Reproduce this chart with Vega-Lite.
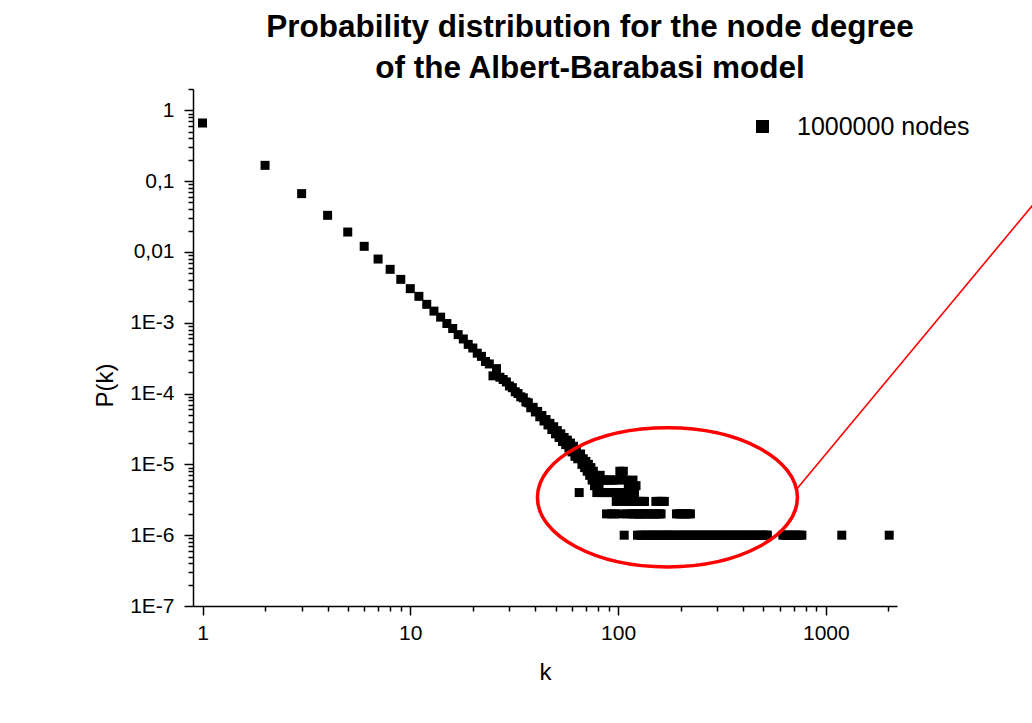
{
  "$schema": "https://vega.github.io/schema/vega-lite/v6.json",
  "autosize": "none",
  "padding": {"left": 193, "top": 89, "right": 135, "bottom": 117},
  "width": 704,
  "height": 517,
  "background": "white",
  "config": {
    "font": "Liberation Sans",
    "view": {"stroke": null},
    "axis": {
      "grid": false,
      "domainColor": "#000",
      "domainWidth": 1.5,
      "tickColor": "#000",
      "tickWidth": 1.5,
      "labelColor": "#000",
      "labelFont": "Liberation Sans",
      "labelFontSize": 21,
      "titleColor": "#000",
      "titleFont": "Liberation Sans",
      "titleFontSize": 24,
      "titleFontWeight": "normal",
      "labelOverlap": false,
      "labelFlush": false,
      "labelBound": false
    }
  },
  "title": {
    "text": ["Probability distribution for the node degree", "of the Albert-Barabasi model"],
    "font": "Liberation Sans",
    "fontSize": 31.5,
    "fontWeight": "bold",
    "color": "#000",
    "anchor": "middle",
    "dx": 45,
    "lineHeight": 41,
    "offset": -6
  },
  "layer": [
    {
      "data": {"values": [
        {"k": 1, "P": 0.662}, {"k": 2, "P": 0.167}, {"k": 3, "P": 0.0666}, {"k": 4, "P": 0.0329},
        {"k": 5, "P": 0.0191}, {"k": 6, "P": 0.0120}, {"k": 7, "P": 0.00794}, {"k": 8, "P": 0.00568},
        {"k": 9, "P": 0.00410}, {"k": 10, "P": 0.00303}, {"k": 11, "P": 0.00236}, {"k": 12, "P": 0.00182},
        {"k": 13, "P": 0.00146}, {"k": 14, "P": 0.00120}, {"k": 15, "P": 0.000975}, {"k": 16, "P": 0.000830},
        {"k": 17, "P": 0.000680}, {"k": 18, "P": 0.000590}, {"k": 19, "P": 0.000495}, {"k": 20, "P": 0.000440},
        {"k": 21, "P": 0.000372}, {"k": 22, "P": 0.000335}, {"k": 23, "P": 0.000284}, {"k": 24, "P": 0.000262},
        {"k": 25, "P": 0.000178}, {"k": 26, "P": 0.000225}, {"k": 27, "P": 0.000170}, {"k": 28, "P": 0.000158},
        {"k": 29, "P": 0.000146}, {"k": 30, "P": 0.000128}, {"k": 31, "P": 0.000121}, {"k": 32, "P": 0.000106},
        {"k": 33, "P": 0.000100}, {"k": 34, "P": 0.000090}, {"k": 35, "P": 0.000087}, {"k": 36, "P": 0.000076},
        {"k": 37, "P": 0.000074}, {"k": 38, "P": 0.000063}, {"k": 39, "P": 0.000064}, {"k": 40, "P": 0.000055},
        {"k": 41, "P": 0.000056}, {"k": 42, "P": 0.000047}, {"k": 43, "P": 0.000049}, {"k": 44, "P": 0.000041},
        {"k": 45, "P": 0.000043}, {"k": 46, "P": 0.000036}, {"k": 47, "P": 0.000038}, {"k": 48, "P": 0.000031},
        {"k": 49, "P": 0.000034}, {"k": 50, "P": 0.000027}, {"k": 51, "P": 0.000030}, {"k": 52, "P": 0.000024},
        {"k": 53, "P": 0.000027}, {"k": 54, "P": 0.000021}, {"k": 55, "P": 0.000024}, {"k": 56, "P": 0.000019},
        {"k": 57, "P": 0.000022}, {"k": 58, "P": 0.000017}, {"k": 59, "P": 0.000020}, {"k": 60, "P": 0.000015},
        {"k": 61, "P": 18e-6}, {"k": 62, "P": 13e-6}, {"k": 63, "P": 16e-6}, {"k": 64, "P": 12e-6},
        {"k": 65, "P": 4e-6}, {"k": 66, "P": 14e-6}, {"k": 67, "P": 10e-6}, {"k": 68, "P": 12e-6},
        {"k": 69, "P": 9e-6}, {"k": 70, "P": 11e-6}, {"k": 71, "P": 8e-6}, {"k": 72, "P": 10e-6},
        {"k": 73, "P": 7e-6}, {"k": 74, "P": 9e-6}, {"k": 75, "P": 6e-6}, {"k": 76, "P": 8e-6},
        {"k": 77, "P": 5e-6}, {"k": 78, "P": 7e-6}, {"k": 79, "P": 4e-6}, {"k": 80, "P": 6e-6},
        {"k": 81, "P": 5e-6}, {"k": 82, "P": 7e-6}, {"k": 83, "P": 4e-6}, {"k": 84, "P": 6e-6},
        {"k": 85, "P": 6e-6}, {"k": 86, "P": 4e-6}, {"k": 87, "P": 6e-6}, {"k": 88, "P": 2e-6},
        {"k": 89, "P": 4e-6}, {"k": 90, "P": 6e-6}, {"k": 91, "P": 4e-6}, {"k": 92, "P": 6e-6},
        {"k": 93, "P": 2e-6}, {"k": 94, "P": 4e-6}, {"k": 95, "P": 6e-6}, {"k": 96, "P": 2e-6},
        {"k": 97, "P": 4e-6}, {"k": 98, "P": 3e-6}, {"k": 99, "P": 6e-6}, {"k": 100, "P": 4e-6},
        {"k": 101, "P": 3e-6}, {"k": 102, "P": 8e-6}, {"k": 103, "P": 2e-6}, {"k": 104, "P": 7e-6},
        {"k": 105, "P": 4e-6}, {"k": 106, "P": 8e-6}, {"k": 107, "P": 1e-6}, {"k": 108, "P": 6e-6},
        {"k": 109, "P": 3e-6}, {"k": 110, "P": 4e-6}, {"k": 111, "P": 2e-6}, {"k": 112, "P": 5e-6},
        {"k": 113, "P": 3e-6}, {"k": 114, "P": 4e-6}, {"k": 115, "P": 2e-6}, {"k": 116, "P": 5e-6},
        {"k": 117, "P": 3e-6}, {"k": 118, "P": 6e-6}, {"k": 119, "P": 2e-6}, {"k": 120, "P": 4e-6},
        {"k": 121, "P": 3e-6}, {"k": 122, "P": 5e-6}, {"k": 123, "P": 2e-6}, {"k": 124, "P": 1e-6},
        {"k": 125, "P": 2e-6}, {"k": 126, "P": 3e-6}, {"k": 127, "P": 2e-6}, {"k": 128, "P": 1e-6},
        {"k": 129, "P": 3e-6}, {"k": 130, "P": 2e-6}, {"k": 131, "P": 1e-6}, {"k": 132, "P": 3e-6},
        {"k": 133, "P": 2e-6}, {"k": 134, "P": 3e-6}, {"k": 136, "P": 1e-6}, {"k": 137, "P": 2e-6},
        {"k": 139, "P": 1e-6}, {"k": 140, "P": 2e-6}, {"k": 142, "P": 1e-6}, {"k": 144, "P": 2e-6},
        {"k": 146, "P": 1e-6}, {"k": 147, "P": 2e-6}, {"k": 149, "P": 1e-6}, {"k": 150, "P": 2e-6},
        {"k": 152, "P": 3e-6}, {"k": 153, "P": 1e-6}, {"k": 154, "P": 2e-6}, {"k": 156, "P": 3e-6},
        {"k": 157, "P": 1e-6}, {"k": 158, "P": 2e-6}, {"k": 160, "P": 3e-6}, {"k": 161, "P": 2e-6},
        {"k": 163, "P": 1e-6}, {"k": 164, "P": 3e-6}, {"k": 166, "P": 1e-6}, {"k": 167, "P": 3e-6},
        {"k": 170, "P": 1e-6}, {"k": 174, "P": 1e-6}, {"k": 178, "P": 1e-6}, {"k": 182, "P": 1e-6},
        {"k": 187, "P": 1e-6}, {"k": 191, "P": 2e-6}, {"k": 193, "P": 1e-6}, {"k": 196, "P": 2e-6},
        {"k": 198, "P": 1e-6}, {"k": 201, "P": 2e-6}, {"k": 204, "P": 1e-6}, {"k": 206, "P": 2e-6},
        {"k": 209, "P": 1e-6}, {"k": 212, "P": 2e-6}, {"k": 215, "P": 1e-6}, {"k": 217, "P": 2e-6},
        {"k": 220, "P": 1e-6}, {"k": 223, "P": 2e-6}, {"k": 226, "P": 1e-6}, {"k": 232, "P": 1e-6},
        {"k": 238, "P": 1e-6}, {"k": 245, "P": 1e-6}, {"k": 251, "P": 1e-6}, {"k": 258, "P": 1e-6},
        {"k": 265, "P": 1e-6}, {"k": 272, "P": 1e-6}, {"k": 279, "P": 1e-6}, {"k": 287, "P": 1e-6},
        {"k": 295, "P": 1e-6}, {"k": 303, "P": 1e-6}, {"k": 311, "P": 1e-6}, {"k": 319, "P": 1e-6},
        {"k": 328, "P": 1e-6}, {"k": 337, "P": 1e-6}, {"k": 346, "P": 1e-6}, {"k": 355, "P": 1e-6},
        {"k": 365, "P": 1e-6}, {"k": 375, "P": 1e-6}, {"k": 385, "P": 1e-6}, {"k": 395, "P": 1e-6},
        {"k": 406, "P": 1e-6}, {"k": 417, "P": 1e-6}, {"k": 428, "P": 1e-6}, {"k": 440, "P": 1e-6},
        {"k": 452, "P": 1e-6}, {"k": 464, "P": 1e-6}, {"k": 476, "P": 1e-6}, {"k": 489, "P": 1e-6},
        {"k": 502, "P": 1e-6}, {"k": 515, "P": 1e-6}, {"k": 523, "P": 1e-6}, {"k": 621, "P": 1e-6},
        {"k": 637, "P": 1e-6}, {"k": 654, "P": 1e-6}, {"k": 672, "P": 1e-6}, {"k": 690, "P": 1e-6},
        {"k": 709, "P": 1e-6}, {"k": 728, "P": 1e-6}, {"k": 748, "P": 1e-6}, {"k": 767, "P": 1e-6},
        {"k": 1193, "P": 1e-6}, {"k": 2018, "P": 1e-6}
      ]},
      "mark": {"type": "point", "shape": "square", "filled": true, "size": 81, "opacity": 1},
      "encoding": {
        "x": {
          "field": "k", "type": "quantitative",
          "scale": {"type": "log", "domain": [0.9, 2200], "nice": false},
          "axis": {
            "title": "k",
            "titleX": 352,
            "titleY": 66,
            "titleBaseline": "middle",
            "titleAlign": "center",
            "values": [1,2,3,4,5,6,7,8,9,10,20,30,40,50,60,70,80,90,100,200,300,400,500,600,700,800,900,1000,2000],
            "labelExpr": "abs(log(datum.value)/LN10 - round(log(datum.value)/LN10)) < 0.001 ? format(datum.value, 'd') : ''",
            "tickSize": {"condition": {"test": "abs(log(datum.value)/LN10 - round(log(datum.value)/LN10)) < 0.001", "value": 9}, "value": 5},
            "labelPadding": 7
          }
        },
        "y": {
          "field": "P", "type": "quantitative",
          "scale": {"type": "log", "domain": [1e-7, 2], "nice": false},
          "axis": {
            "title": "P(k)",
            "titleX": -88,
            "titleY": 296,
            "titleAngle": -90,
            "titleBaseline": "middle",
            "titleAlign": "center",
            "values": [1e-7,2e-7,3e-7,4e-7,5e-7,6e-7,7e-7,8e-7,9e-7,1e-6,2e-6,3e-6,4e-6,5e-6,6e-6,7e-6,8e-6,9e-6,1e-5,2e-5,3e-5,4e-5,5e-5,6e-5,7e-5,8e-5,9e-5,1e-4,2e-4,3e-4,4e-4,5e-4,6e-4,7e-4,8e-4,9e-4,0.001,0.002,0.003,0.004,0.005,0.006,0.007,0.008,0.009,0.01,0.02,0.03,0.04,0.05,0.06,0.07,0.08,0.09,0.1,0.2,0.3,0.4,0.5,0.6,0.7,0.8,0.9,1,2],
            "labelExpr": "abs(log(datum.value)/LN10 - round(log(datum.value)/LN10)) < 0.001 ? (datum.value > 0.5 ? '1' : datum.value > 0.05 ? '0,1' : datum.value > 0.005 ? '0,01' : '1E' + round(log(datum.value)/LN10)) : ''",
            "tickSize": {"condition": {"test": "abs(log(datum.value)/LN10 - round(log(datum.value)/LN10)) < 0.001", "value": 9}, "value": 5},
            "labelPadding": 10
          }
        },
        "color": {
          "datum": "1000000 nodes",
          "scale": {"range": ["#000000"]},
          "legend": {
            "title": null,
            "orient": "none",
            "legendX": 557,
            "legendY": 25,
            "padding": 0,
            "symbolType": "square",
            "symbolSize": 169,
            "symbolOpacity": 1,
            "labelFont": "Liberation Sans",
            "labelFontSize": 25,
            "labelColor": "#000",
            "labelOffset": 22,
            "labelLimit": 400
          }
        }
      }
    },
    {
      "data": {"values": [{"k": 172.8, "P": 3.42e-6}]},
      "mark": {
        "type": "point",
        "shape": "M-1,0C-1,-0.2955,-0.5523,-0.535,0,-0.535C0.5523,-0.535,1,-0.2955,1,0C1,0.2955,0.5523,0.535,0,0.535C-0.5523,0.535,-1,0.2955,-1,0Z",
        "size": 67600,
        "filled": false,
        "stroke": "#ff0000",
        "strokeWidth": 3.5,
        "opacity": 1
      },
      "encoding": {
        "x": {"field": "k", "type": "quantitative"},
        "y": {"field": "P", "type": "quantitative"}
      }
    },
    {
      "data": {"values": [{"k": 728, "P": 4.58e-6, "k2": 9880, "P2": 0.0455}]},
      "mark": {"type": "rule", "color": "#ff0000", "strokeWidth": 1.6},
      "encoding": {
        "x": {"field": "k", "type": "quantitative"},
        "y": {"field": "P", "type": "quantitative"},
        "x2": {"field": "k2"},
        "y2": {"field": "P2"}
      }
    }
  ]
}
